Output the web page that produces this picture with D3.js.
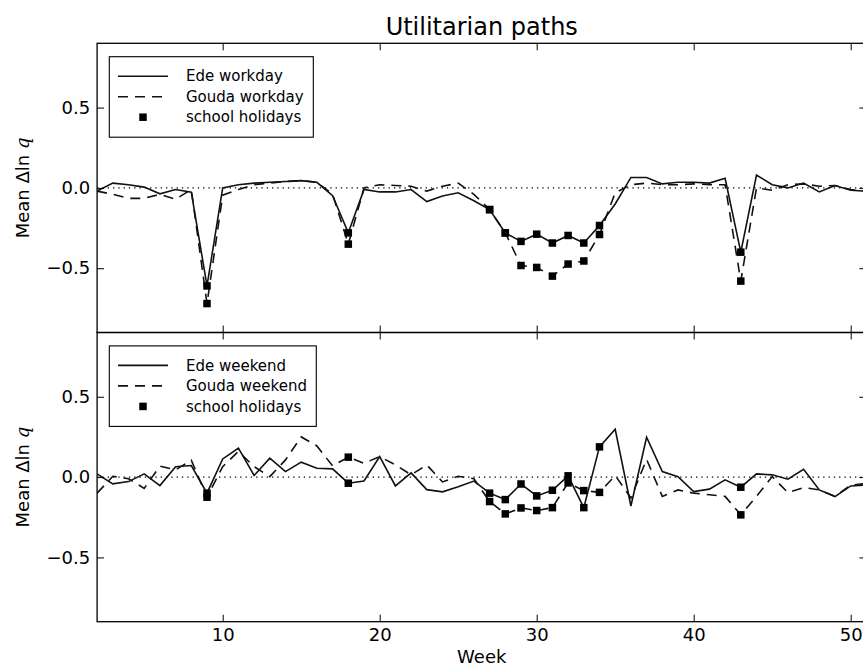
<!DOCTYPE html>
<html><head><meta charset="utf-8">
<script src="https://cdn.jsdelivr.net/npm/d3@7"></script>
<style>
html,body{margin:0;padding:0;background:#fff;}
text{font-family:"DejaVu Sans",sans-serif;fill:#000;}
</style></head>
<body>
<svg id="chart" width="863" height="666"></svg>
<script>
const weeks = d3.range(2, 52);
const holidayWeeks = [9, 18, 27, 28, 29, 30, 31, 32, 33, 34, 43];
const xTicks = [10, 20, 30, 40, 50];
const yTicks = [-0.5, 0.0, 0.5];

const edeWorkday = [-0.02,0.03,0.02,0.005,-0.037,-0.01,-0.027,-0.61,0.0,0.02,
  0.03,0.035,0.04,0.045,0.035,-0.048,-0.28,-0.01,-0.025,-0.025,
  -0.01,-0.085,-0.05,-0.03,-0.08,-0.135,-0.28,-0.333,-0.288,-0.343,
  -0.296,-0.343,-0.234,-0.1,0.065,0.065,0.025,0.035,0.035,0.03,
  0.06,-0.4,0.08,0.02,0.0,0.03,-0.025,0.015,-0.015,-0.02];
const goudaWorkday = [-0.02,-0.04,-0.065,-0.065,-0.04,-0.07,-0.01,-0.72,-0.045,-0.01,
  0.02,0.03,0.04,0.045,0.035,-0.04,-0.35,0.0,0.02,0.015,
  0.01,-0.02,0.01,0.03,-0.04,-0.135,-0.28,-0.483,-0.495,-0.549,
  -0.474,-0.455,-0.29,-0.03,0.02,0.03,0.02,0.02,0.025,0.02,
  0.02,-0.58,0.0,-0.015,0.02,0.025,0.01,0.015,-0.01,-0.02];
const edeWeekend = [0.02,-0.042,-0.028,0.02,-0.053,0.065,0.072,-0.1,0.113,0.18,
  0.01,0.118,0.034,0.093,0.055,0.051,-0.038,-0.024,0.128,-0.055,
  0.026,-0.078,-0.092,-0.06,-0.025,-0.1,-0.14,-0.043,-0.117,-0.082,
  0.008,-0.19,0.188,0.298,-0.18,0.248,0.034,0.003,-0.09,-0.075,
  -0.017,-0.063,0.02,0.014,-0.013,0.049,-0.08,-0.121,-0.055,-0.05];
const goudaWeekend = [-0.1,0.005,-0.01,-0.07,0.068,0.045,0.105,-0.125,0.065,0.16,
  0.065,0.003,0.107,0.25,0.194,0.07,0.124,0.086,0.128,0.076,
  0.014,0.076,-0.03,0.005,-0.01,-0.152,-0.229,-0.192,-0.208,-0.19,
  -0.036,-0.084,-0.095,0.01,-0.13,0.11,-0.12,-0.08,-0.1,-0.11,
  -0.12,-0.235,-0.12,0.003,-0.096,-0.065,-0.08,-0.12,-0.05,-0.04];

const panels = [
  {top: 43.3, bottom: 332.5, solid: edeWorkday, dashed: goudaWorkday,
   labels: ["Ede workday", "Gouda workday", "school holidays"], legendW: 204, xLabels: false},
  {top: 332.5, bottom: 621.7, solid: edeWeekend, dashed: goudaWeekend,
   labels: ["Ede weekend", "Gouda weekend", "school holidays"], legendW: 207, xLabels: true}
];

const svg = d3.select("#chart");
svg.append("rect").attr("width", 863).attr("height", 666).attr("fill", "#fff");
const left = 97.1, right = 866.4;
const x = d3.scaleLinear().domain([2, 51]).range([left, right]);

svg.append("text").attr("x", (left + right) / 2).attr("y", 35)
  .attr("text-anchor", "middle").style("font-size", "24px").text("Utilitarian paths");

panels.forEach((p, i) => {
  const y = d3.scaleLinear().domain([-0.9, 0.9]).range([p.bottom, p.top]);
  const g = svg.append("g");
  const clipId = "clip" + i;
  svg.append("clipPath").attr("id", clipId).append("rect")
    .attr("x", left).attr("y", p.top).attr("width", right - left).attr("height", p.bottom - p.top);
  const plot = g.append("g").attr("clip-path", `url(#${clipId})`);

  plot.append("line").attr("x1", left).attr("x2", right).attr("y1", y(0)).attr("y2", y(0))
    .attr("stroke", "#000").attr("stroke-width", 1.1).attr("stroke-dasharray", "1.3,4");

  const line = d3.line().x((d, j) => x(weeks[j])).y(d => y(d));
  plot.append("path").datum(p.dashed).attr("d", line).attr("fill", "none")
    .attr("stroke", "#111").attr("stroke-width", 1.6).attr("stroke-dasharray", "10,7");
  plot.append("path").datum(p.solid).attr("d", line).attr("fill", "none")
    .attr("stroke", "#111").attr("stroke-width", 1.6);

  const ms = 7.5;
  [p.solid, p.dashed].forEach(series => {
    plot.selectAll(null).data(holidayWeeks).enter().append("rect")
      .attr("x", w => x(w) - ms / 2).attr("y", w => y(series[weeks.indexOf(w)]) - ms / 2)
      .attr("width", ms).attr("height", ms).attr("fill", "#000");
  });

  const yFmt = d3.format(".1f");
  const la = g.append("g").attr("transform", `translate(${left},0)`)
    .call(d3.axisLeft(y).tickValues(yTicks).tickSizeInner(-7).tickSizeOuter(0).tickPadding(7).tickFormat(yFmt));
  const ra = g.append("g").attr("transform", `translate(${right},0)`)
    .call(d3.axisRight(y).tickValues(yTicks).tickSizeInner(-7).tickSizeOuter(0).tickFormat(""));
  const ta = g.append("g").attr("transform", `translate(0,${p.top})`)
    .call(d3.axisTop(x).tickValues(xTicks).tickSizeInner(-7).tickSizeOuter(0).tickFormat(""));
  const ba = g.append("g").attr("transform", `translate(0,${p.bottom})`)
    .call(d3.axisBottom(x).tickValues(xTicks).tickSizeInner(-7).tickSizeOuter(0).tickPadding(7)
      .tickFormat(p.xLabels ? d3.format("d") : ""));
  [la, ra, ta, ba].forEach(a => {
    a.select(".domain").remove();
    a.selectAll(".tick line").attr("stroke", "#000").attr("stroke-width", 1);
    a.selectAll("text").style("font-size", "18px").style("font-family", '"DejaVu Sans",sans-serif').attr("fill", "#000");
  });

  g.append("rect").attr("x", left).attr("y", p.top).attr("width", right - left).attr("height", p.bottom - p.top)
    .attr("fill", "none").attr("stroke", "#000").attr("stroke-width", 1.3);

  const yl = g.append("text").attr("transform", `translate(29,${(p.top + p.bottom) / 2}) rotate(-90)`)
    .attr("text-anchor", "middle").style("font-size", "18px");
  yl.append("tspan").text("Mean \u0394ln ");
  yl.append("tspan").style("font-style", "italic").style("font-family", '"DejaVu Serif",serif').text("q");

  const lx = 109.3, ly = p.top + 13.4;
  const lg = g.append("g");
  lg.append("rect").attr("x", lx).attr("y", ly).attr("width", p.legendW).attr("height", 80.5)
    .attr("fill", "#fff").attr("stroke", "#000").attr("stroke-width", 1.1);
  const rows = [ly + 19.5, ly + 40, ly + 60.5];
  lg.append("line").attr("x1", 118).attr("x2", 168).attr("y1", rows[0]).attr("y2", rows[0])
    .attr("stroke", "#111").attr("stroke-width", 1.6);
  lg.append("line").attr("x1", 118).attr("x2", 168).attr("y1", rows[1]).attr("y2", rows[1])
    .attr("stroke", "#111").attr("stroke-width", 1.6).attr("stroke-dasharray", "10,7");
  lg.append("rect").attr("x", 143 - ms / 2).attr("y", rows[2] - ms / 2).attr("width", ms).attr("height", ms).attr("fill", "#000");
  p.labels.forEach((t, k) => {
    lg.append("text").attr("x", 186).attr("y", rows[k]).attr("dy", "0.35em").style("font-size", "15px").text(t);
  });
});

svg.append("text").attr("x", (left + right) / 2).attr("y", 663).attr("text-anchor", "middle")
  .style("font-size", "18px").text("Week");
</script>
</body></html>
